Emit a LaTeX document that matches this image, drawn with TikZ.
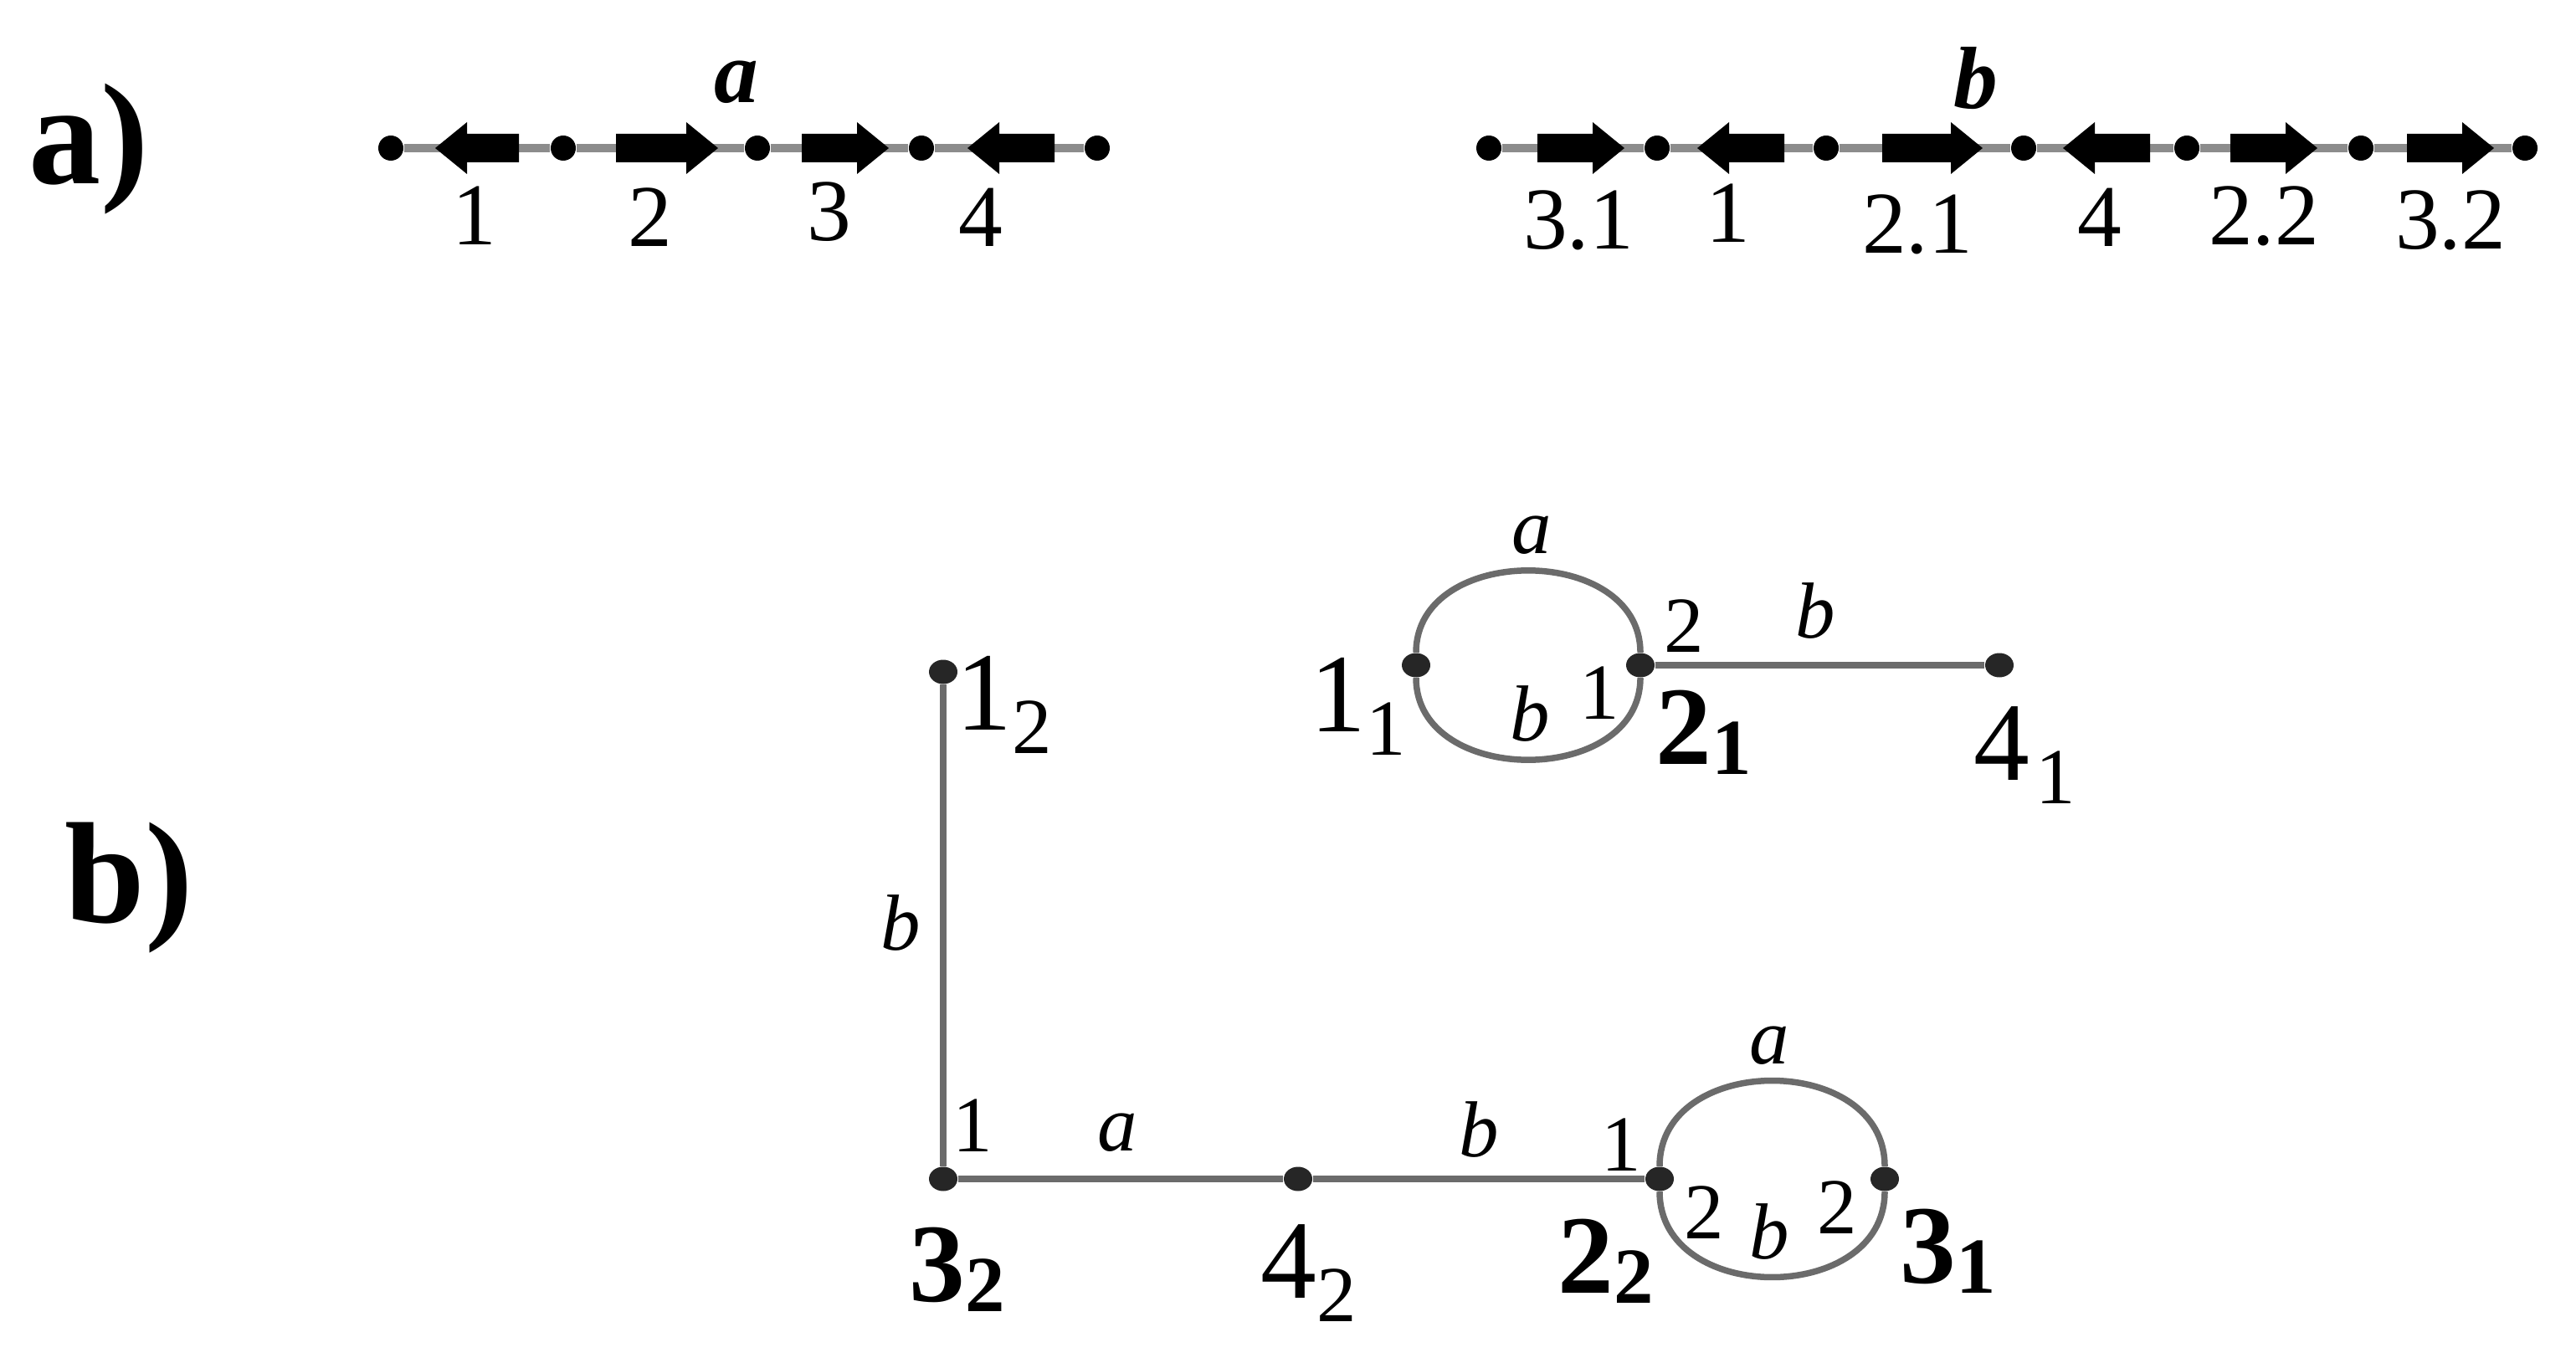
\documentclass[tikz,border=0pt]{standalone}
\usepackage{fontspec}
\setmainfont{Liberation Serif}
\usetikzlibrary{shapes.geometric}

\newcommand{\vsub}[1]{\raisebox{-8pt}{\fontsize{27}{30}\selectfont #1}}
\newcommand{\bsub}[1]{\raisebox{-3.5pt}{\fontsize{27}{30}\selectfont\bfseries #1}}

\tikzset{
  site/.style={circle,fill=black,inner sep=0pt,minimum size=0.3cm},
  vert/.style={ellipse,fill=black!85,inner sep=0pt,minimum width=0.34cm,minimum height=0.29cm},
  chainline/.style={draw=black!45,line width=0.1cm},
  edge/.style={draw=black!58,line width=0.075cm},
  genelab/.style={font=\fontsize{30}{34}\selectfont,inner sep=0pt},
  ordlab/.style={font=\fontsize{30}{34}\selectfont\bfseries\itshape,inner sep=0pt},
  partlab/.style={font=\fontsize{49}{54}\selectfont\bfseries,inner sep=0pt,anchor=base west},
  vertlab/.style={font=\fontsize{38}{42}\selectfont,inner sep=0pt,anchor=base west},
  edgelab/.style={font=\fontsize{27}{30}\selectfont\itshape,inner sep=0pt},
  portlab/.style={font=\fontsize{27}{30}\selectfont,inner sep=0pt},
}

\begin{document}
\begin{tikzpicture}

\useasboundingbox (0,0) rectangle (30.78,-16.29);

% Part labels
\node[partlab] (parta) at (0.34,-2.20) {a)};
\node[partlab] (partb) at (0.77,-11.02) {b)};

% Order a
\foreach \n/\x in {1/4.67,2/6.73,3/9.05,4/11.01,5/13.11}
  \node[site] (la\n) at (\x,-1.77) {};
\foreach \i/\j in {1/2,2/3,3/4,4/5}
  \draw[chainline] (la\i) -- (la\j);

% Order b
\foreach \n/\x in {1/17.79,2/19.80,3/21.82,4/24.18,5/26.13,6/28.21,7/30.17}
  \node[site] (lb\n) at (\x,-1.77) {};
\foreach \i/\j in {1/2,2/3,3/4,4/5,5/6,6/7}
  \draw[chainline] (lb\i) -- (lb\j);

% Genes (tail/tip)
\foreach \tl/\tp in {6.20/5.20,7.36/8.58,9.58/10.62,12.60/11.56,
                     18.37/19.41,21.32/20.28,22.49/23.69,25.69/24.65,26.65/27.69,28.76/29.80}
{
  \pgfmathsetmacro{\hb}{\tp-0.38*sign(\tp-\tl)}
  \fill (\tl,-1.94) -- (\hb,-1.94) -- (\hb,-2.08) -- (\tp,-1.77)
    -- (\hb,-1.46) -- (\hb,-1.60) -- (\tl,-1.60) -- cycle;
}

% Gene names
\node[genelab] (ga1) at (5.67,-2.58) {1};
\node[genelab] (ga2) at (7.77,-2.60) {2};
\node[genelab] (ga3) at (9.91,-2.53) {3};
\node[genelab] (ga4) at (11.72,-2.60) {4};
\node[ordlab] (orda) at (8.80,-0.98) {a};

\node[genelab] (gb1) at (18.86,-2.63) {3.1};
\node[genelab] (gb2) at (20.65,-2.55) {1};
\node[genelab] (gb3) at (22.91,-2.68) {2.1};
\node[genelab] (gb4) at (25.09,-2.60) {4};
\node[genelab] (gb5) at (27.05,-2.58) {2.2};
\node[genelab] (gb6) at (29.28,-2.63) {3.2};
\node[ordlab] (ordb) at (23.61,-0.94) {b};

% b) the graph
\node[vert] (v11) at (16.92,-7.95) {};
\node[vert] (v21) at (19.60,-7.95) {};
\node[vert] (v41) at (23.89,-7.95) {};
\node[vert] (v12) at (11.27,-8.03) {};
\node[vert] (v32) at (11.27,-14.09) {};
\node[vert] (v42) at (15.51,-14.09) {};
\node[vert] (v22) at (19.83,-14.09) {};
\node[vert] (v31) at (22.52,-14.09) {};

\draw[edge] (v11) to[out=90,in=90,looseness=1.25] (v21);
\draw[edge] (v11) to[out=-90,in=-90,looseness=1.25] (v21);
\draw[edge] (v21) -- (v41);
\draw[edge] (v12) -- (v32);
\draw[edge] (v32) -- (v42);
\draw[edge] (v42) -- (v22);
\draw[edge] (v22) to[out=90,in=90,looseness=1.3] (v31);
\draw[edge] (v22) to[out=-90,in=-90,looseness=1.3] (v31);

% Vertex names
\node[vertlab] (n11) at (15.65,-8.74) {1\vsub{1}};
\node[vertlab] (n21) at (19.78,-9.13) {\textbf{2}\bsub{1}};
\node[vertlab] (n41) at (23.58,-9.32) {4\vsub{\kern2pt 1}};
\node[vertlab] (n12) at (11.42,-8.72) {1\vsub{2}};
\node[vertlab] (n32) at (10.86,-15.55) {\textbf{3}\bsub{2}};
\node[vertlab] (n42) at (15.06,-15.51) {4\vsub{2}};
\node[vertlab] (n22) at (18.61,-15.45) {\textbf{2}\bsub{2}};
\node[vertlab] (n31) at (22.70,-15.33) {\textbf{3}\bsub{1}};

% Edge labels
\node[edgelab] (e1) at (18.30,-6.40) {a};
\node[edgelab] (e2) at (18.28,-8.53) {b};
\node[edgelab] (e3) at (21.69,-7.30) {b};
\node[edgelab] (e4) at (10.76,-11.03) {b};
\node[edgelab] (e5) at (13.35,-13.54) {a};
\node[edgelab] (e6) at (17.67,-13.50) {b};
\node[edgelab] (e7) at (21.14,-12.50) {a};
\node[edgelab] (e8) at (21.14,-14.72) {b};

% Ends of the edges
\node[portlab] (p1) at (20.12,-7.48) {2};
\node[portlab] (p2) at (19.11,-8.28) {1};
\node[portlab] (p3) at (11.62,-13.45) {1};
\node[portlab] (p4) at (19.37,-13.68) {1};
\node[portlab] (p5) at (20.36,-14.49) {2};
\node[portlab] (p6) at (21.95,-14.43) {2};

\end{tikzpicture}
\end{document}
